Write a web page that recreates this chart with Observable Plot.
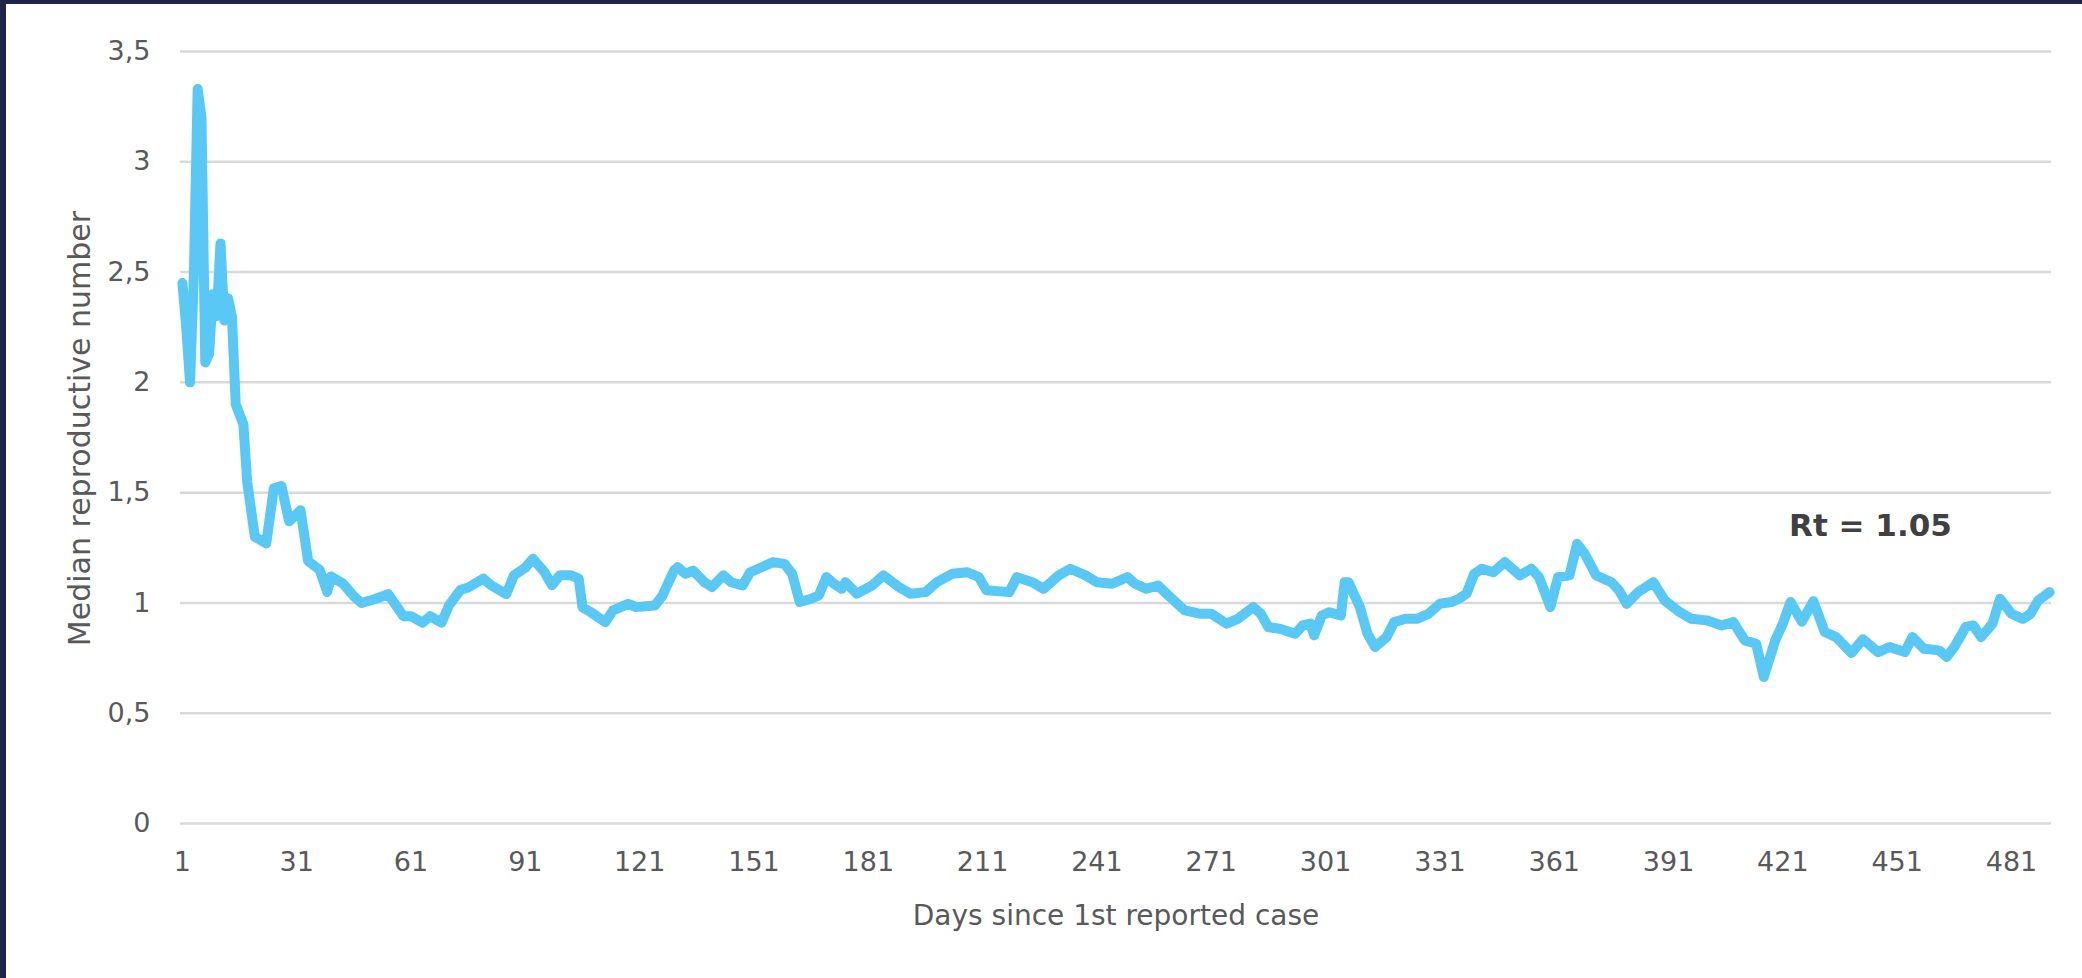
<!DOCTYPE html>
<html>
<head>
<meta charset="utf-8">
<script src="https://cdn.jsdelivr.net/npm/d3@7"></script>
<script src="https://cdn.jsdelivr.net/npm/@observablehq/plot@0.6"></script>
<style>
  html, body { margin: 0; padding: 0; background: #ffffff; }
  #wrap { position: relative; width: 2082px; height: 978px; overflow: hidden; background: #fff; }
  #wrap svg { position: absolute; left: 0; top: 0; }
  .frame-top { position: absolute; left: 0; top: 0; width: 2082px; height: 4px; background: #1f2548; }
  .frame-left { position: absolute; left: 0; top: 0; width: 6px; height: 978px; background: #1f2548; }
</style>
</head>
<body>
<div id="wrap"><div class="frame-top"></div><div class="frame-left"></div></div>
<script>
// Days since first reported case
const days = [
  1,2,3,4,5,6,7,8,9,10,11,12,13,14,15,17,18,20,23,25,27,29,32,34,37,39,40,43,46,48,
  52,55,59,61,64,66,69,71,74,76,80,82,86,88,91,93,96,98,100,103,105,106,108,112,114,118,120,125,127,130,
  131,133,135,138,140,143,145,148,150,153,156,159,161,163,166,168,170,172,174,175,178,182,185,189,192,196,199,203,207,210,
  212,218,220,224,227,231,234,238,241,245,249,251,254,257,260,264,268,271,275,278,282,284,286,289,293,295,297,298,300,302,
  305,306,307,310,312,314,317,319,322,325,328,331,334,336,338,340,342,345,348,350,352,355,357,360,362,365,367,369,372,376,
  378,380,383,387,390,394,397,401,405,408,411,414,416,419,421,423,426,429,432,435,439,442,446,449,453,455,458,462,464,466,
  469,471,473,476,478,481,484,486,488,491
];
// Median reproductive number read at those days
const values = [
  2.45,2.25,2.0,2.48,3.33,3.2,2.09,2.13,2.4,2.3,2.63,2.28,2.38,2.3,1.9,1.81,1.55,1.3,1.27,1.52,1.53,1.37,1.42,1.19,1.15,1.05,1.12,1.09,1.03,1.0,
  1.02,1.04,0.94,0.94,0.91,0.94,0.91,0.99,1.06,1.07,1.11,1.08,1.04,1.125,1.16,1.2,1.14,1.08,1.125,1.125,1.11,0.98,0.96,0.913,0.966,0.996,0.981,0.988,1.034,1.147,
  1.162,1.132,1.147,1.094,1.072,1.125,1.094,1.079,1.139,1.162,1.185,1.177,1.132,1.004,1.019,1.034,1.117,1.087,1.064,1.094,1.042,1.079,1.125,1.072,1.042,1.049,1.094,1.132,1.139,1.117,
  1.057,1.049,1.117,1.094,1.064,1.125,1.155,1.125,1.094,1.087,1.117,1.087,1.064,1.079,1.03,0.966,0.951,0.951,0.906,0.928,0.981,0.951,0.89,0.883,0.86,0.898,0.906,0.853,0.943,0.958,
  0.943,1.094,1.094,0.981,0.86,0.8,0.845,0.913,0.928,0.928,0.951,0.996,1.004,1.019,1.042,1.132,1.155,1.139,1.185,1.155,1.125,1.155,1.117,0.981,1.117,1.125,1.268,1.223,1.125,1.094,
  1.057,0.996,1.049,1.094,1.011,0.958,0.928,0.921,0.898,0.913,0.83,0.815,0.664,0.83,0.906,1.004,0.915,1.008,0.868,0.845,0.773,0.835,0.777,0.8,0.777,0.845,0.792,0.785,0.755,0.8,
  0.891,0.898,0.845,0.906,1.019,0.951,0.928,0.951,1.011,1.049
];
const xTicks = [1,31,61,91,121,151,181,211,241,271,301,331,361,391,421,451,481];
const yTicks = [0,0.5,1,1.5,2,2.5,3,3.5];
const xTitle = "Days since 1st reported case";
const yTitle = "Median reproductive number";
const noteDay = [444];
const noteValue = [1.35];
const noteText = ["Rt = 1.05"];

const series = days.map((d, i) => ({day: d, value: values[i]}));
const notes = noteText.map((t, i) => ({day: noteDay[i], value: noteValue[i], text: t}));

const font = "'DejaVu Sans', sans-serif";
const textColor = "#595959";

const chart = Plot.plot({
  width: 2082,
  height: 978,
  marginLeft: 180,
  marginRight: 31,
  marginTop: 51,
  marginBottom: 155,
  style: {fontFamily: font, background: "transparent", color: textColor},
  x: {domain: [0.5, 491.5], label: null},
  y: {domain: [0, 3.5], label: null},
  marks: [
    Plot.ruleY(yTicks, {stroke: "#d9d9d9", strokeWidth: 2.5}),
    Plot.axisX({ticks: xTicks, tickSize: 0, tickPadding: 28, fontSize: 27, fill: textColor, label: null, tickFormat: d => String(d)}),
    Plot.axisY({ticks: yTicks, tickSize: 0, tickPadding: 30, fontSize: 27, fill: textColor, label: null, tickFormat: d => String(d).replace(".", ",")}),
    Plot.line(series, {x: "day", y: "value", stroke: "#5AC8F5", strokeWidth: 10, strokeLinejoin: "round", strokeLinecap: "round"}),
    Plot.text([xTitle], {frameAnchor: "bottom", lineAnchor: "middle", textAnchor: "middle", dy: 93, fontSize: 28, fill: textColor}),
    Plot.text([yTitle], {frameAnchor: "left", textAnchor: "middle", lineAnchor: "middle", dx: -100, dy: -9, rotate: -90, fontSize: 30, fill: textColor}),
    Plot.text(notes, {x: "day", y: "value", text: "text", fontSize: 31, fontWeight: "bold", fill: "#404040"})
  ]
});
document.getElementById("wrap").prepend(chart);
</script>
</body>
</html>
